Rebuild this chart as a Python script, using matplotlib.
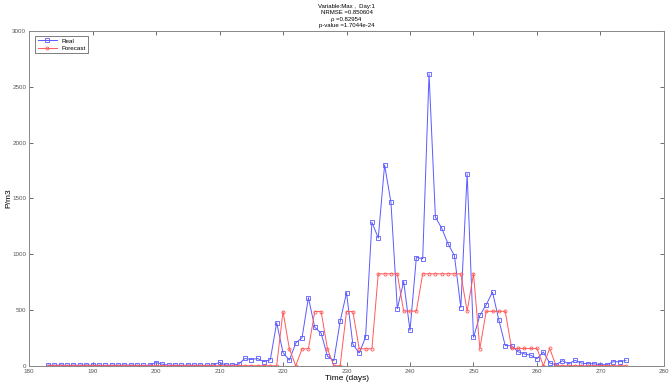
import numpy as np
import matplotlib.pyplot as plt

plt.rcParams['font.family'] = ['Liberation Sans', 'DejaVu Sans']

# Días
dias = np.arange(183, 275)

# Valores reales (P/m3)
real = [5, 4, 6, 3, 5, 4, 6, 5, 4, 3,
        5, 4, 6, 5, 4, 3, 5, 28, 14, 4,
        5, 3, 6, 4, 5, 3, 6, 30, 6, 5,
        15, 65, 56, 65, 36, 54, 385, 118, 50, 203,
        252, 610, 345, 292, 85, 45, 397, 655, 192, 114,
        255, 1287, 1144, 1800, 1463, 511, 755, 316, 970, 959,
        2616, 1332, 1232, 1092, 986, 522, 1720, 254, 451, 547,
        660, 408, 180, 180, 126, 106, 95, 63, 123, 24,
        9, 45, 18, 48, 24, 18, 18, 9, 9, 36,
        36, 48]

# Pronóstico (P/m3)
pronostico = [0] * 37 + [486, 152, 0, 152, 152, 486, 486, 152, 0, 0,
                         486, 486, 152, 152, 152, 824, 824, 824, 824, 490,
                         490, 490, 824, 824, 824, 824, 824, 824, 824, 488,
                         824, 152, 488, 488, 488, 488, 155, 155, 155, 155,
                         155, 0, 155] + [0] * 12

titulo = ['Variable:Max ,  Day:1', 'NRMSE =0.850604', 'ρ =0.82954', 'p-value =1.7044e-24']

fig = plt.figure(figsize=(6.69, 3.85), dpi=100)
ax = fig.add_axes([0.0434, 0.050, 0.9491, 0.8695])

ax.plot(dias, real, '-s', color='#5a5aff', lw=0.7, ms=3.2, mfc='none', mew=0.6, label='Real')
ax.plot(dias, pronostico, '-o', color='#ff5a5a', lw=0.7, ms=2.2, mfc='none', mew=0.6, label='Forecast')

ax.set_xlim(180, 280)
ax.set_ylim(0, 3000)
ax.set_xticks(np.arange(180, 281, 10))
ax.set_yticks(np.arange(0, 3001, 500))
ax.tick_params(direction='in', length=3, width=0.6, labelsize=4.5, colors='#555555',
               top=True, right=True, pad=2)
for s in ax.spines.values():
    s.set_color('#888888')
    s.set_linewidth(0.7)

ax.set_xlabel('Time (days)', fontsize=6, labelpad=1)
ax.set_ylabel('P/m3', fontsize=6, labelpad=0)
ax.set_title('\n'.join(titulo), fontsize=4.3, pad=3, linespacing=1.3)

leg = ax.legend(loc='upper left', fontsize=4.5, frameon=True, fancybox=False,
                edgecolor='#444444', handlelength=3, borderpad=0.4, labelspacing=0.3,
                bbox_to_anchor=(0.005, 0.995))
leg.get_frame().set_linewidth(0.6)

plt.savefig('out.png', dpi=100)
